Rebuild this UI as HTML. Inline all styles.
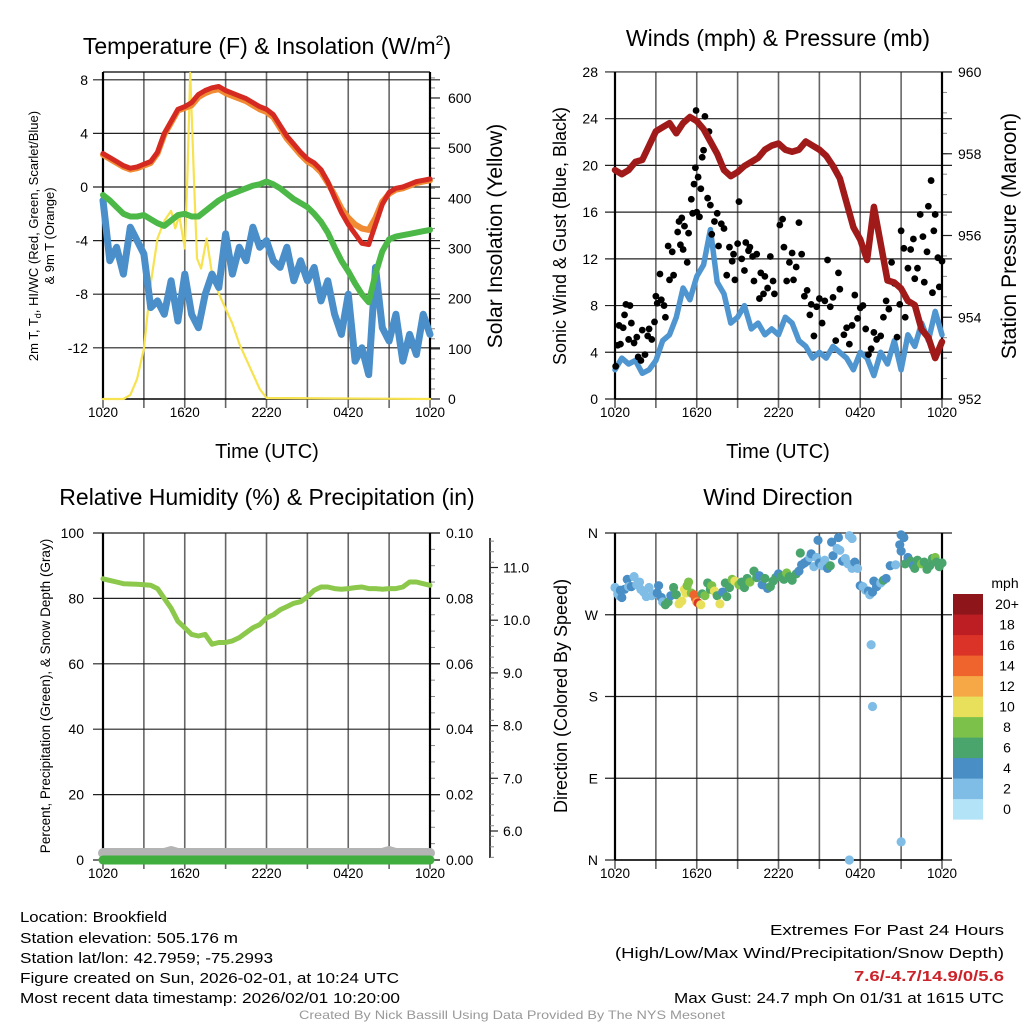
<!DOCTYPE html>
<html><head><meta charset="utf-8"><title>Brookfield Mesonet</title>
<style>
html,body{margin:0;padding:0;background:#fff;}
svg{display:block;font-family:"Liberation Sans",Arial,sans-serif;}
</style></head>
<body>
<svg id="chart" width="1024" height="1024" viewBox="0 0 1024 1024" xmlns="http://www.w3.org/2000/svg">
<rect width="1024" height="1024" fill="#fff"/>
<text x="267" y="54" font-size="23" text-anchor="middle">Temperature (F) &amp; Insolation (W/m<tspan font-size="14" dy="-9">2</tspan><tspan dy="9">)</tspan></text>
<text x="778" y="46" font-size="23" text-anchor="middle">Winds (mph) &amp; Pressure (mb)</text>
<text x="267" y="505" font-size="23" text-anchor="middle">Relative Humidity (%) &amp; Precipitation (in)</text>
<text x="778" y="505" font-size="23" text-anchor="middle">Wind Direction</text>
<text transform="translate(38,236) rotate(-90)" font-size="13" text-anchor="middle">2m T, T<tspan font-size="9" dy="3">d</tspan><tspan dy="-3">, HI/WC (Red, Green, Scarlet/Blue)</tspan></text>
<text transform="translate(54,236) rotate(-90)" font-size="13" text-anchor="middle">&amp; 9m T (Orange)</text>
<text transform="translate(502,236) rotate(-90)" font-size="21" text-anchor="middle">Solar Insolation (Yellow)</text>
<text x="267" y="458" font-size="20" text-anchor="middle">Time (UTC)</text>
<text transform="translate(566,236) rotate(-90)" font-size="18" text-anchor="middle">Sonic Wind &amp; Gust (Blue, Black)</text>
<text transform="translate(1016,236) rotate(-90)" font-size="21" text-anchor="middle">Station Pressure (Maroon)</text>
<text x="778" y="458" font-size="20" text-anchor="middle">Time (UTC)</text>
<text transform="translate(50,696) rotate(-90)" font-size="13.5" text-anchor="middle">Percent, Precipitation (Green), &amp; Snow Depth (Gray)</text>
<text transform="translate(567,696) rotate(-90)" font-size="18" text-anchor="middle">Direction (Colored By Speed)</text>
<g id="layer"></g>
<g font-size="14.5">
<text x="20" y="922" textLength="147" lengthAdjust="spacingAndGlyphs">Location: Brookfield</text>
<text x="20" y="943" textLength="218" lengthAdjust="spacingAndGlyphs">Station elevation: 505.176 m</text>
<text x="20" y="963" textLength="253" lengthAdjust="spacingAndGlyphs">Station lat/lon: 42.7959; -75.2993</text>
<text x="20" y="983" textLength="379" lengthAdjust="spacingAndGlyphs">Figure created on Sun, 2026-02-01, at 10:24 UTC</text>
<text x="20" y="1003" textLength="380" lengthAdjust="spacingAndGlyphs">Most recent data timestamp: 2026/02/01 10:20:00</text>
</g>
<g font-size="15">
<text x="1004" y="935" text-anchor="end" textLength="234" lengthAdjust="spacingAndGlyphs">Extremes For Past 24 Hours</text>
<text x="1004" y="958" text-anchor="end" textLength="389" lengthAdjust="spacingAndGlyphs">(High/Low/Max Wind/Precipitation/Snow Depth)</text>
<text x="1004" y="981" text-anchor="end" fill="#cc2229" font-weight="bold" textLength="150" lengthAdjust="spacingAndGlyphs">7.6/-4.7/14.9/0/5.6</text>
<text x="1004" y="1003" text-anchor="end" textLength="330" lengthAdjust="spacingAndGlyphs">Max Gust: 24.7 mph On 01/31 at 1615 UTC</text>
</g>
<text x="512" y="1019" font-size="12" fill="#999" text-anchor="middle" textLength="426" lengthAdjust="spacingAndGlyphs">Created By Nick Bassill Using Data Provided By The NYS Mesonet</text>
</svg>
<script>
const timeLabels = ["1020","1620","2220","0420","1020"];
const tempTicks = [8,4,0,-4,-8,-12];
const solarTicks = [0,100,200,300,400,500,600];
const windTicks = [0,4,8,12,16,20,24,28];
const presTicks = [952,954,956,958,960];
const rhTicks = [0,20,40,60,80,100];
const precipTicks = ["0.00","0.02","0.04","0.06","0.08","0.10"];
const snowTicks = [6,7,8,9,10,11];
const dirLabels = ["N","E","S","W","N"];
const temp2m = [2.5,2.2,1.9,1.6,1.4,1.5,1.7,1.9,2.6,4.0,4.9,5.8,6.0,6.3,6.9,7.2,7.4,7.5,7.2,7.0,6.8,6.6,6.3,6.0,5.8,5.4,4.6,3.8,3.2,2.6,2.1,1.8,1.3,0.4,-0.8,-1.9,-2.8,-3.5,-4.2,-4.3,-2.8,-1.3,-0.4,-0.1,0.0,0.2,0.4,0.5,0.6];
const temp9m = [2.4,2.1,1.8,1.5,1.3,1.4,1.6,1.8,2.5,3.9,4.8,5.7,5.9,6.1,6.7,7.0,7.2,7.3,7.0,6.8,6.6,6.4,6.1,5.8,5.6,5.2,4.4,3.6,3.0,2.4,1.9,1.6,1.1,0.3,-0.6,-1.6,-2.3,-2.8,-3.1,-3.2,-2.3,-1.1,-0.5,-0.2,-0.1,0.1,0.3,0.4,0.5];
const dewpoint = [-0.6,-1.0,-1.5,-2.0,-2.2,-2.2,-2.1,-2.4,-2.7,-2.9,-2.5,-2.1,-2.0,-2.2,-2.2,-1.8,-1.4,-1.0,-0.7,-0.5,-0.3,-0.1,0.1,0.2,0.4,0.2,-0.1,-0.5,-0.9,-1.2,-1.5,-2.0,-2.6,-3.4,-4.5,-5.5,-6.3,-7.2,-8.0,-8.6,-6.5,-4.8,-3.9,-3.7,-3.6,-3.5,-3.4,-3.3,-3.2];
const windChill = [-1,-5.5,-4.5,-6.5,-3,-4,-5,-9,-8.5,-9.5,-7,-10,-6.5,-9.5,-10.5,-8,-6.5,-7.5,-3.5,-6.5,-4.5,-5.5,-3,-4.5,-4,-5.5,-6,-4.5,-7,-5.5,-7,-6,-8.5,-7,-9.5,-11,-8,-13,-12,-14,-6,-10.5,-11.5,-9.5,-13,-11,-12.5,-9.5,-11];
const solarTimes = [0,1.5,2,2.5,3,3.5,4,4.5,5,5.3,5.6,6,6.2,6.4,6.7,6.9,7.2,7.6,8,8.5,9,9.5,10,10.5,11,11.5,12,24];
const solarVals = [0,0,8,40,100,230,320,355,375,340,365,300,450,650,420,280,260,320,250,210,180,150,110,80,50,20,2,0];
const windSpeed = [2.5,3.5,3.0,3.3,2.2,2.5,3.3,5.0,5.5,7.0,9.5,8.5,10.5,11.5,14.5,10.0,9.0,6.5,7.0,8.0,6.0,6.5,5.5,6.0,5.5,7.0,6.5,5.0,4.5,3.5,4.0,3.5,4.5,4.0,3.5,2.5,4.0,3.5,2.0,4.0,3.0,5.0,2.5,5.5,4.5,6.5,5.0,7.5,5.5];
const pressure = [957.6,957.5,957.6,957.8,957.85,958.2,958.55,958.65,958.75,958.5,958.75,958.9,958.8,958.6,958.3,958.0,957.6,957.45,957.55,957.7,957.8,957.9,958.1,958.2,958.25,958.1,958.05,958.1,958.3,958.2,958.1,957.95,957.7,957.4,956.8,956.2,955.9,955.4,956.7,955.8,954.9,954.85,954.7,954.4,954.3,953.7,953.5,953.0,953.4];
const gustTimes = [0.05,0.2,0.3,0.4,0.6,0.7,0.8,1.1,1.0,1.2,1.4,1.6,1.7,1.9,2.0,2.2,2.4,2.5,2.7,2.9,3.0,3.1,3.3,3.4,3.6,3.7,3.9,4.0,4.2,4.3,4.6,4.7,4.8,4.9,5.0,5.1,5.3,5.4,5.6,5.7,5.8,5.9,6.0,6.1,6.2,6.3,6.4,6.5,6.6,5.95,6.8,6.9,7.0,7.1,7.3,7.5,7.6,7.8,8.0,8.2,8.4,8.6,8.7,8.8,9.0,9.1,9.3,9.5,9.6,9.8,9.9,10.1,10.2,10.4,10.6,10.7,10.9,11.0,11.2,11.4,11.6,11.7,12.1,12.3,12.4,12.6,12.8,13.0,13.1,13.3,13.5,13.7,13.9,14.1,14.3,14.4,14.6,14.8,15.0,15.2,15.4,15.6,15.8,16.0,16.2,16.4,16.5,16.8,17.0,17.2,17.4,17.6,17.8,18.0,18.2,18.4,18.6,18.8,19.0,19.2,19.5,19.7,19.9,20.1,20.3,20.5,20.7,20.9,21.0,21.2,21.3,21.5,21.7,21.9,22.0,22.2,22.4,22.6,22.7,22.9,23.0,23.2,23.3,23.4,23.5,23.7,23.8,24.0];
const gustVals = [2.8,4.6,6.3,4.7,6.1,7.2,8.1,8.0,5.1,6.5,4.8,5.3,3.6,3.3,5.9,3.8,5.4,6.0,5.1,6.6,8.8,8.2,10.7,8.5,8.0,7.0,13.1,10.2,12.6,10.6,14.3,15.2,13.2,15.5,12.8,14.8,11.7,14.2,17.1,15.9,18.4,19.8,16.0,19.0,15.6,18.0,20.7,21.3,24.2,24.7,17.2,22.9,16.6,14.1,15.2,15.9,13.1,15.0,14.6,10.6,13.0,11.8,12.4,10.2,13.3,16.9,12.0,11.0,13.4,12.7,13.0,12.2,10.1,12.4,8.6,10.8,9.0,10.5,9.5,12.2,10.1,9.0,14.9,15.4,13.0,10.1,11.7,12.5,10.2,11.3,15.1,12.4,8.8,9.3,7.2,8.1,5.4,7.9,8.6,6.5,8.4,11.9,7.9,8.7,5.0,10.8,9.4,5.5,6.1,4.7,6.3,8.9,6.9,7.8,8.0,6.0,3.8,4.3,5.7,5.1,5.4,7.0,8.4,7.7,11.7,9.9,5.3,8.1,14.4,12.9,7.0,11.2,12.8,13.7,10.3,11.2,15.8,13.9,10.0,12.6,16.5,18.7,9.1,14.4,15.8,12.1,9.6,11.8];
const rh = [86,85.5,85,84.5,84.4,84.3,84.2,84,83,80,77,73,71,69,68.5,69,66,66.5,66.5,67,68,69.5,71,72,74,75,76.5,77.5,78.5,79,80.5,82.5,83.5,83.5,83,82.8,83,83.3,83.5,83,83,82.8,83,83,83.5,85,85,84.5,84];
const precip = [0,0,0,0,0,0,0,0,0,0,0,0,0,0,0,0,0,0,0,0,0,0,0,0,0,0,0,0,0,0,0,0,0,0,0,0,0,0,0,0,0,0,0,0,0,0,0,0,0];
const snowDepth = [5.6,5.6,5.6,5.6,5.6,5.6,5.6,5.6,5.6,5.6,5.65,5.6,5.6,5.6,5.6,5.6,5.6,5.6,5.6,5.6,5.6,5.6,5.6,5.6,5.6,5.6,5.6,5.6,5.6,5.6,5.6,5.6,5.6,5.6,5.6,5.6,5.6,5.6,5.6,5.6,5.6,5.6,5.65,5.6,5.6,5.6,5.6,5.6,5.6];
const dirTimes = [0.0,0.2,0.3,0.4,0.5,0.7,0.9,1.0,1.2,1.4,1.6,1.8,1.9,2.1,2.3,2.5,2.7,2.9,3.1,3.2,3.4,3.5,3.7,3.9,4.1,4.3,4.5,4.7,4.9,5.1,5.2,5.3,5.4,5.6,5.8,5.9,6.0,6.1,6.3,6.4,6.6,6.8,7.0,7.1,7.3,7.5,7.7,7.9,8.1,8.2,8.4,8.6,8.8,9.1,9.3,9.5,9.7,9.9,10.2,10.4,10.6,10.8,11.0,11.2,11.4,11.6,11.8,12.0,12.2,12.4,12.6,12.8,13.0,13.3,13.5,13.6,13.7,13.9,14.1,14.3,14.4,14.6,14.8,14.9,15.0,15.2,15.4,15.6,15.8,15.9,16.0,16.3,16.4,16.5,16.7,16.9,17.1,17.2,17.2,17.4,17.4,17.6,17.8,18.0,18.2,18.4,18.6,18.7,18.8,18.9,18.9,19.0,19.2,19.5,19.7,19.9,20.2,20.6,20.9,21.0,21.0,21.0,21.2,21.3,21.5,21.7,21.9,22.0,22.2,22.5,22.7,22.9,23.1,23.3,23.5,23.6,23.8,24.0];
const dirVals = [300,293,291,297,289,298,309,301,301,312,303,306,298,295,290,300,291,293,294,302,289,284,281,284,291,300,292,282,285,298,294,302,306,294,292,288,284,283,281,293,291,305,298,302,296,291,282,295,305,290,300,309,307,303,306,300,310,306,318,311,313,303,310,299,301,307,311,315,312,309,316,312,308,315,318,338,325,327,329,333,337,323,333,352,327,324,330,321,324,350,335,343,355,341,329,332,326,357,0,354,321,328,321,302,301,297,296,292,237,295,169,307,301,305,308,310,324,325,347,340,358,20,355,326,333,329,324,321,330,326,328,320,324,332,333,328,323,327];
const dirSpeeds = [3,2.5,2,4,4.5,4,4,3,4.5,2,2,2.5,3,2,2.5,2,2,3,4,4.5,5,3,6,6,5,6,7,10,10,11,10,8,8,8,14,15,13,16,10,7,9,7,6,9,11,6,10,5,6,6,6,9,10,8,7,6,6,8,6,7,4,5,6,4,6,6,7,4,6,7,8,6,6,6,5,6,4,4,4,3,4,3,3,4,4,2,3,4,6,4,4,2,4,2,4,2,2,2,3,2,2,4,2,4,3,2,4,2,3,4,3,4,5,3,6,4,4,2,4,4,4,3,4,6,4,6,4,6,7,8,6,6,6,7,8,6,6,7];
const speedBins = ["0","2","4","6","8","10","12","14","16","18","20+"];
const binColors = ["#b3e3f7","#7fbde6","#4a8ec6","#4aa56c","#7cc24a","#e8e05a","#f5a845","#ef642d","#dc3328","#bc1e23","#8e161a"];

const NS = "http://www.w3.org/2000/svg";
const layer = document.getElementById("layer");
function mk(tag, attrs, parent) {
  const el = document.createElementNS(NS, tag);
  for (const k in attrs) el.setAttribute(k, attrs[k]);
  (parent || layer).appendChild(el);
  return el;
}
function txt(x, y, s, size, anchor, parent) {
  const el = mk("text", {x: x, y: y, "font-size": size, "text-anchor": anchor || "middle"}, parent);
  el.textContent = s;
  return el;
}
const X0L = 103, X0R = 615, PW = 327;
const xL = t => X0L + t * PW / 24;
const xR = t => X0R + t * PW / 24;
const yTemp = v => 187 - v * 13.4;
const ySolar = v => 399 - v * 0.5017;
const yWind = v => 399 - v * 11.68;
const yPres = p => 399 - (p - 952) * 40.875;
const yRH = v => 860 - v * 3.27;
const yPrecip = v => 860 - v * 3270;
const ySnow = v => 831 - (v - 6) * 52.7;
const yDir = d => 860 - d * 327 / 360;

function frame(x0, top, bottom, name) {
  const g = mk("g", {});
  
  
  for (let i = 0; i <= 8; i++) {
    const x = x0 + i * PW / 8;
    const l = mk("line", {x1: x, x2: x, y1: top, y2: bottom + 9, stroke: "#666", "stroke-width": 1.6}, g);
    
    
  }
  timeLabels.forEach((s, i) => {
    const t = txt(x0 + i * PW / 4, bottom + 18, s, 13.5, "middle", g);
    
    
  });
  return g;
}
function hgrid(g, x0, ys, labels, lx) {
  ys.forEach((y, i) => {
    const l = mk("line", {x1: x0 - 10, x2: x0 + PW + 10, y1: y, y2: y, stroke: "#222", "stroke-width": 1.2}, g);
    
    
    if (labels) {
      const t = txt(lx, y + 5, labels[i], 14, "end", g);
      
      
    }
  });
}
function border(g, x0, top, bottom) {
  mk("line", {x1: x0, x2: x0, y1: top, y2: bottom, stroke: "#000", "stroke-width": 2.2}, g);
  mk("line", {x1: x0 + PW, x2: x0 + PW, y1: top, y2: bottom, stroke: "#000", "stroke-width": 2.2}, g);
  mk("line", {x1: x0, x2: x0 + PW, y1: bottom, y2: bottom, stroke: "#000", "stroke-width": 1.5}, g);
}
function rightTicks(g, x, ys, minorYs, labels, lx, anchor) {
  minorYs.forEach(y => mk("line", {x1: x, x2: x + 5, y1: y, y2: y, stroke: "#888", "stroke-width": 1}, g));
  ys.forEach((y, i) => {
    mk("line", {x1: x, x2: x + 10, y1: y, y2: y, stroke: "#222", "stroke-width": 1.2}, g);
    const t = txt(lx, y + 5, labels[i], 14, anchor || "start", g);
    
    
  });
}
function line(vals, xf, yf, color, w, name, times) {
  const pts = vals.map((v, i) => xf(times ? times[i] : i * 0.5).toFixed(1) + "," + yf(v).toFixed(1)).join(" ");
  const p = mk("polyline", {points: pts, fill: "none", stroke: color, "stroke-width": w, "stroke-linejoin": "round", "stroke-linecap": "round"});
  
  
  return p;
}

{
  const g = frame(X0L, 72, 399, "temperature-panel-grid");
  hgrid(g, X0L, tempTicks.map(yTemp), tempTicks.map(String), 88);
  mk("line", {x1: X0L, x2: X0L + PW, y1: 72, y2: 72, stroke: "#000", "stroke-width": 1.2}, g);
  const minor = []; for (let v = 0; v <= 640; v += 20) minor.push(ySolar(v));
  rightTicks(g, X0L + PW, solarTicks.map(ySolar), minor, solarTicks.map(String), 448);
  border(g, X0L, 72, 399);
  line(solarVals, xL, ySolar, "#f7e24f", 2.2, "solar-insolation-line", solarTimes);
  line(windChill, xL, yTemp, "#4a8fc9", 7, "wind-chill-line");
  line(dewpoint, xL, yTemp, "#4cb848", 6, "dewpoint-line");
  line(temp9m, xL, yTemp, "#f08a33", 6, "temp-9m-line");
  line(temp2m, xL, yTemp, "#d42a22", 5, "temp-2m-line");
}
{
  const g = frame(X0R, 72, 399, "wind-panel-grid");
  hgrid(g, X0R, windTicks.map(yWind), windTicks.map(String), 598);
  const minor = []; for (let p = 952; p <= 960; p += 0.5) minor.push(yPres(p));
  rightTicks(g, X0R + PW, presTicks.map(yPres), minor, presTicks.map(String), 958);
  border(g, X0R, 72, 399);
  line(windSpeed, xR, yWind, "#4f95d0", 5.5, "sonic-wind-line");
  const dots = mk("g", {});
  
  
  gustVals.forEach((v, i) => {
    const c = mk("circle", {cx: xR(gustTimes[i]), cy: yWind(v), r: 3.4, fill: "#000"}, dots);
    
    
  });
  line(pressure, xR, yPres, "#a01a1a", 6.5, "pressure-line");
}
{
  const g = frame(X0L, 533, 860, "humidity-panel-grid");
  hgrid(g, X0L, rhTicks.map(yRH), rhTicks.map(String), 84);
  const minor = []; for (let v = 0; v <= 0.1001; v += 0.005) minor.push(yPrecip(v));
  rightTicks(g, X0L + PW, [0,0.02,0.04,0.06,0.08,0.1].map(yPrecip), minor, precipTicks, 446);
  border(g, X0L, 533, 860);
  const sg = mk("g", {});
  
  
  mk("line", {x1: 490, x2: 490, y1: 538, y2: 858, stroke: "#000", "stroke-width": 1.5}, sg);
  const sm = []; for (let v = 5.5; v <= 11.51; v += 0.2) sm.push(ySnow(v));
  sm.forEach(y => mk("line", {x1: 490, x2: 494, y1: y, y2: y, stroke: "#888", "stroke-width": 1}, sg));
  snowTicks.forEach(v => {
    mk("line", {x1: 490, x2: 498, y1: ySnow(v), y2: ySnow(v), stroke: "#222", "stroke-width": 1.2}, sg);
    const t = txt(503, ySnow(v) + 5, v.toFixed(1), 14, "start", sg);
    
    
  });
  line(snowDepth, xL, v => 853 - (v - 5.6) * 40, "#b4b4b4", 10, "snow-depth-line");
  line(precip, xL, yPrecip, "#3fae3f", 9, "precip-line");
  line(rh, xL, yRH, "#8cc84b", 5, "relative-humidity-line");
}
{
  const g = frame(X0R, 533, 860, "direction-panel-grid");
  hgrid(g, X0R, [0,90,180,270,360].map(yDir), dirLabels, 598);
  border(g, X0R, 533, 860);
  const dots = mk("g", {});
  
  
  dirVals.forEach((d, i) => {
    const bin = Math.min(10, Math.floor(dirSpeeds[i] / 2));
    const c = mk("circle", {cx: xR(dirTimes[i]), cy: yDir(d), r: 4.6, fill: binColors[bin]}, dots);
    
    
  });
  const cb = mk("g", {});
  
  
  const u = txt(1005, 588, "mph", 14, "middle", cb);
  
  
  speedBins.forEach((s, i) => {
    const y = 799 - i * 20.5;
    const r = mk("rect", {x: 953, y: y, width: 30, height: 20.6, fill: binColors[i]}, cb);
    
    
    const t = txt(1007, y + 15, s, 14, "middle", cb);
    
    
  });
}
</script>
</body></html>
